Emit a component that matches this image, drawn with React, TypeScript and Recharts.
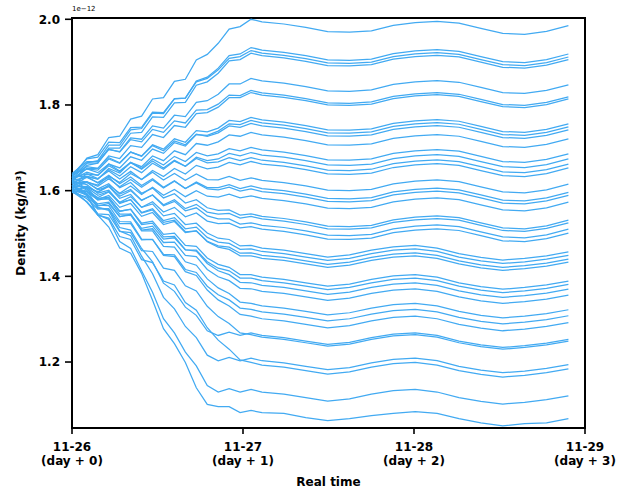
import { LineChart, Line, XAxis, YAxis, ReferenceArea } from 'recharts';

// time since 11-26 00:00, in days
const days = [0, 0.087, 0.151, 0.215, 0.279, 0.343, 0.407, 0.471, 0.535, 0.599, 0.663, 0.727, 0.791, 0.855, 0.919, 0.983, 1.047, 1.111, 1.239, 1.367, 1.495, 1.623, 1.751, 1.879, 2.007, 2.135, 2.263, 2.391, 2.519, 2.647, 2.775, 2.903];

// ensemble members, density in 1e-12 kg/m3
const run01 = [1.630, 1.676, 1.684, 1.724, 1.727, 1.767, 1.774, 1.814, 1.817, 1.855, 1.860, 1.905, 1.918, 1.944, 1.977, 1.983, 2.000, 1.994, 1.989, 1.981, 1.971, 1.970, 1.973, 1.986, 1.992, 1.995, 1.991, 1.979, 1.967, 1.965, 1.972, 1.985];
const run02 = [1.625, 1.665, 1.670, 1.706, 1.706, 1.742, 1.745, 1.781, 1.780, 1.814, 1.816, 1.856, 1.865, 1.886, 1.915, 1.919, 1.934, 1.928, 1.923, 1.915, 1.905, 1.904, 1.907, 1.920, 1.926, 1.929, 1.925, 1.913, 1.901, 1.899, 1.906, 1.919];
const run03 = [1.636, 1.674, 1.678, 1.713, 1.712, 1.747, 1.748, 1.783, 1.782, 1.815, 1.816, 1.854, 1.862, 1.882, 1.909, 1.913, 1.927, 1.921, 1.916, 1.908, 1.898, 1.897, 1.900, 1.913, 1.919, 1.922, 1.918, 1.906, 1.894, 1.892, 1.899, 1.912];
const run04 = [1.620, 1.659, 1.664, 1.699, 1.699, 1.734, 1.736, 1.772, 1.771, 1.805, 1.806, 1.846, 1.854, 1.874, 1.903, 1.906, 1.921, 1.915, 1.910, 1.902, 1.892, 1.891, 1.894, 1.907, 1.913, 1.916, 1.912, 1.900, 1.888, 1.886, 1.893, 1.906];
const run05 = [1.632, 1.664, 1.665, 1.696, 1.691, 1.723, 1.720, 1.751, 1.746, 1.776, 1.773, 1.806, 1.810, 1.825, 1.849, 1.849, 1.862, 1.856, 1.851, 1.843, 1.833, 1.832, 1.835, 1.848, 1.854, 1.857, 1.853, 1.841, 1.829, 1.827, 1.834, 1.847];
const run06 = [1.640, 1.668, 1.668, 1.697, 1.690, 1.719, 1.714, 1.743, 1.736, 1.763, 1.758, 1.788, 1.789, 1.802, 1.823, 1.822, 1.834, 1.828, 1.823, 1.815, 1.805, 1.804, 1.807, 1.820, 1.826, 1.829, 1.825, 1.813, 1.801, 1.799, 1.806, 1.819];
const run07 = [1.622, 1.652, 1.652, 1.681, 1.675, 1.705, 1.701, 1.731, 1.724, 1.752, 1.748, 1.780, 1.782, 1.795, 1.817, 1.817, 1.829, 1.823, 1.818, 1.810, 1.800, 1.799, 1.802, 1.815, 1.821, 1.824, 1.820, 1.808, 1.796, 1.794, 1.801, 1.814];
const run08 = [1.628, 1.651, 1.648, 1.674, 1.664, 1.690, 1.681, 1.707, 1.697, 1.721, 1.713, 1.740, 1.737, 1.746, 1.764, 1.761, 1.771, 1.765, 1.760, 1.752, 1.742, 1.741, 1.744, 1.757, 1.763, 1.766, 1.762, 1.750, 1.738, 1.736, 1.743, 1.756];
const run09 = [1.615, 1.639, 1.636, 1.662, 1.653, 1.679, 1.671, 1.697, 1.687, 1.712, 1.704, 1.731, 1.729, 1.739, 1.756, 1.754, 1.764, 1.758, 1.753, 1.745, 1.735, 1.734, 1.737, 1.750, 1.756, 1.759, 1.755, 1.743, 1.731, 1.729, 1.736, 1.749];
const run10 = [1.635, 1.656, 1.652, 1.677, 1.665, 1.690, 1.680, 1.705, 1.693, 1.716, 1.707, 1.732, 1.727, 1.735, 1.751, 1.748, 1.757, 1.751, 1.746, 1.738, 1.728, 1.727, 1.730, 1.743, 1.749, 1.752, 1.748, 1.736, 1.724, 1.722, 1.729, 1.742];
const run11 = [1.610, 1.632, 1.627, 1.652, 1.641, 1.666, 1.656, 1.681, 1.670, 1.693, 1.684, 1.710, 1.706, 1.714, 1.730, 1.727, 1.736, 1.730, 1.725, 1.717, 1.707, 1.706, 1.709, 1.722, 1.728, 1.731, 1.727, 1.715, 1.703, 1.701, 1.708, 1.721];
const run12 = [1.626, 1.643, 1.636, 1.658, 1.644, 1.665, 1.652, 1.674, 1.660, 1.680, 1.668, 1.689, 1.681, 1.686, 1.698, 1.693, 1.701, 1.695, 1.690, 1.682, 1.672, 1.671, 1.674, 1.687, 1.693, 1.696, 1.692, 1.680, 1.668, 1.666, 1.673, 1.686];
const run13 = [1.618, 1.634, 1.627, 1.649, 1.634, 1.656, 1.642, 1.664, 1.650, 1.669, 1.657, 1.678, 1.670, 1.674, 1.687, 1.681, 1.689, 1.683, 1.678, 1.670, 1.660, 1.659, 1.662, 1.675, 1.681, 1.684, 1.680, 1.668, 1.656, 1.654, 1.661, 1.674];
const run14 = [1.638, 1.651, 1.642, 1.662, 1.646, 1.666, 1.650, 1.669, 1.653, 1.671, 1.657, 1.675, 1.665, 1.667, 1.677, 1.670, 1.677, 1.671, 1.666, 1.658, 1.648, 1.647, 1.650, 1.663, 1.669, 1.672, 1.668, 1.656, 1.644, 1.642, 1.649, 1.662];
const run15 = [1.605, 1.620, 1.613, 1.634, 1.619, 1.640, 1.626, 1.647, 1.633, 1.652, 1.639, 1.659, 1.651, 1.655, 1.666, 1.660, 1.668, 1.662, 1.657, 1.649, 1.639, 1.638, 1.641, 1.654, 1.660, 1.663, 1.659, 1.647, 1.635, 1.633, 1.640, 1.653];
const run16 = [1.630, 1.639, 1.628, 1.646, 1.627, 1.645, 1.626, 1.643, 1.625, 1.640, 1.624, 1.639, 1.626, 1.625, 1.633, 1.624, 1.630, 1.624, 1.619, 1.611, 1.601, 1.600, 1.603, 1.616, 1.622, 1.625, 1.621, 1.609, 1.597, 1.595, 1.602, 1.615];
const run17 = [1.612, 1.621, 1.610, 1.628, 1.609, 1.626, 1.608, 1.625, 1.606, 1.622, 1.605, 1.620, 1.607, 1.607, 1.614, 1.605, 1.611, 1.605, 1.600, 1.592, 1.582, 1.581, 1.584, 1.597, 1.603, 1.606, 1.602, 1.590, 1.578, 1.576, 1.583, 1.596];
const run18 = [1.624, 1.631, 1.619, 1.636, 1.616, 1.632, 1.612, 1.628, 1.608, 1.623, 1.605, 1.618, 1.604, 1.602, 1.608, 1.599, 1.604, 1.598, 1.593, 1.585, 1.575, 1.574, 1.577, 1.590, 1.596, 1.599, 1.595, 1.583, 1.571, 1.569, 1.576, 1.589];
const run19 = [1.600, 1.608, 1.597, 1.613, 1.594, 1.611, 1.591, 1.608, 1.589, 1.603, 1.586, 1.600, 1.587, 1.585, 1.592, 1.583, 1.588, 1.582, 1.577, 1.569, 1.559, 1.558, 1.561, 1.574, 1.580, 1.583, 1.579, 1.567, 1.555, 1.553, 1.560, 1.573];
const run20 = [1.633, 1.633, 1.618, 1.631, 1.607, 1.619, 1.594, 1.606, 1.583, 1.593, 1.571, 1.579, 1.560, 1.554, 1.555, 1.543, 1.546, 1.540, 1.535, 1.527, 1.517, 1.516, 1.519, 1.532, 1.538, 1.541, 1.537, 1.525, 1.513, 1.511, 1.518, 1.531];
const run21 = [1.608, 1.610, 1.596, 1.610, 1.587, 1.600, 1.577, 1.590, 1.567, 1.579, 1.558, 1.568, 1.550, 1.545, 1.547, 1.536, 1.540, 1.534, 1.529, 1.521, 1.511, 1.510, 1.513, 1.526, 1.532, 1.535, 1.531, 1.519, 1.507, 1.505, 1.512, 1.525];
const run22 = [1.620, 1.619, 1.604, 1.616, 1.592, 1.603, 1.578, 1.590, 1.565, 1.575, 1.553, 1.560, 1.541, 1.534, 1.534, 1.522, 1.525, 1.519, 1.514, 1.506, 1.496, 1.495, 1.498, 1.511, 1.517, 1.520, 1.516, 1.504, 1.492, 1.490, 1.497, 1.510];
const run23 = [1.598, 1.599, 1.584, 1.597, 1.573, 1.586, 1.561, 1.574, 1.550, 1.561, 1.539, 1.548, 1.529, 1.523, 1.524, 1.513, 1.516, 1.510, 1.505, 1.497, 1.487, 1.486, 1.489, 1.502, 1.508, 1.511, 1.507, 1.495, 1.483, 1.481, 1.488, 1.501];
const run24 = [1.627, 1.620, 1.602, 1.610, 1.582, 1.591, 1.561, 1.569, 1.541, 1.547, 1.521, 1.524, 1.501, 1.489, 1.486, 1.471, 1.472, 1.466, 1.461, 1.453, 1.445, 1.450, 1.461, 1.469, 1.472, 1.466, 1.453, 1.444, 1.438, 1.442, 1.448, 1.457];
const run25 = [1.613, 1.607, 1.589, 1.598, 1.570, 1.579, 1.549, 1.558, 1.530, 1.537, 1.511, 1.515, 1.491, 1.480, 1.477, 1.463, 1.464, 1.458, 1.453, 1.445, 1.437, 1.442, 1.453, 1.461, 1.464, 1.458, 1.445, 1.436, 1.430, 1.434, 1.440, 1.449];
const run26 = [1.604, 1.598, 1.580, 1.589, 1.561, 1.570, 1.540, 1.549, 1.521, 1.528, 1.502, 1.506, 1.482, 1.471, 1.468, 1.454, 1.455, 1.449, 1.444, 1.436, 1.428, 1.433, 1.444, 1.452, 1.455, 1.449, 1.436, 1.427, 1.421, 1.425, 1.431, 1.440];
const run27 = [1.622, 1.614, 1.594, 1.601, 1.572, 1.579, 1.548, 1.555, 1.526, 1.531, 1.504, 1.506, 1.481, 1.468, 1.463, 1.448, 1.448, 1.442, 1.437, 1.429, 1.421, 1.426, 1.437, 1.445, 1.448, 1.442, 1.429, 1.420, 1.414, 1.418, 1.424, 1.433];
const run28 = [1.610, 1.598, 1.578, 1.583, 1.552, 1.557, 1.524, 1.529, 1.498, 1.501, 1.472, 1.470, 1.443, 1.428, 1.421, 1.404, 1.404, 1.398, 1.393, 1.385, 1.377, 1.382, 1.393, 1.401, 1.404, 1.398, 1.385, 1.376, 1.370, 1.374, 1.380, 1.389];
const run29 = [1.596, 1.585, 1.564, 1.570, 1.539, 1.545, 1.512, 1.517, 1.487, 1.490, 1.462, 1.461, 1.434, 1.419, 1.413, 1.396, 1.396, 1.390, 1.385, 1.377, 1.369, 1.374, 1.385, 1.393, 1.396, 1.390, 1.377, 1.368, 1.362, 1.366, 1.372, 1.381];
const run30 = [1.618, 1.604, 1.582, 1.585, 1.552, 1.556, 1.521, 1.524, 1.492, 1.493, 1.462, 1.459, 1.430, 1.413, 1.404, 1.386, 1.385, 1.379, 1.374, 1.366, 1.358, 1.363, 1.374, 1.382, 1.385, 1.379, 1.366, 1.357, 1.351, 1.355, 1.361, 1.370];
const run31 = [1.606, 1.591, 1.569, 1.573, 1.540, 1.543, 1.508, 1.511, 1.479, 1.480, 1.449, 1.446, 1.416, 1.399, 1.390, 1.372, 1.371, 1.365, 1.360, 1.352, 1.344, 1.349, 1.360, 1.368, 1.371, 1.365, 1.352, 1.343, 1.337, 1.341, 1.347, 1.356];
const run32 = [1.625, 1.605, 1.580, 1.580, 1.545, 1.545, 1.506, 1.506, 1.470, 1.468, 1.434, 1.426, 1.394, 1.373, 1.360, 1.340, 1.337, 1.331, 1.326, 1.318, 1.310, 1.315, 1.326, 1.334, 1.337, 1.331, 1.318, 1.309, 1.303, 1.307, 1.313, 1.322];
const run33 = [1.600, 1.581, 1.557, 1.558, 1.523, 1.523, 1.485, 1.486, 1.451, 1.450, 1.416, 1.409, 1.377, 1.357, 1.345, 1.326, 1.323, 1.317, 1.312, 1.304, 1.296, 1.301, 1.312, 1.320, 1.323, 1.317, 1.304, 1.295, 1.289, 1.293, 1.299, 1.308];
const run34 = [1.614, 1.592, 1.566, 1.565, 1.528, 1.527, 1.487, 1.486, 1.449, 1.446, 1.411, 1.402, 1.368, 1.345, 1.331, 1.311, 1.307, 1.301, 1.296, 1.288, 1.280, 1.285, 1.296, 1.304, 1.307, 1.301, 1.288, 1.279, 1.273, 1.277, 1.283, 1.292];
const run35 = [1.609, 1.594, 1.560, 1.557, 1.514, 1.508, 1.465, 1.434, 1.384, 1.365, 1.328, 1.309, 1.273, 1.262, 1.270, 1.262, 1.268, 1.262, 1.257, 1.249, 1.241, 1.246, 1.257, 1.265, 1.268, 1.262, 1.249, 1.240, 1.234, 1.238, 1.244, 1.253];
const run36 = [1.598, 1.574, 1.546, 1.544, 1.505, 1.502, 1.460, 1.458, 1.419, 1.414, 1.378, 1.366, 1.330, 1.306, 1.290, 1.268, 1.264, 1.258, 1.253, 1.245, 1.237, 1.242, 1.253, 1.261, 1.264, 1.258, 1.245, 1.236, 1.230, 1.234, 1.240, 1.249];
const run37 = [1.620, 1.601, 1.561, 1.554, 1.506, 1.495, 1.447, 1.406, 1.351, 1.324, 1.283, 1.257, 1.216, 1.203, 1.211, 1.203, 1.209, 1.203, 1.198, 1.190, 1.182, 1.187, 1.198, 1.206, 1.209, 1.203, 1.190, 1.181, 1.175, 1.179, 1.185, 1.194];
const run38 = [1.605, 1.573, 1.543, 1.536, 1.493, 1.486, 1.439, 1.432, 1.389, 1.380, 1.339, 1.321, 1.280, 1.251, 1.230, 1.205, 1.199, 1.193, 1.188, 1.180, 1.172, 1.177, 1.188, 1.196, 1.199, 1.193, 1.180, 1.171, 1.165, 1.169, 1.175, 1.184];
const run39 = [1.612, 1.588, 1.544, 1.533, 1.481, 1.465, 1.413, 1.363, 1.301, 1.268, 1.223, 1.191, 1.145, 1.130, 1.138, 1.130, 1.136, 1.130, 1.125, 1.117, 1.109, 1.114, 1.125, 1.133, 1.136, 1.130, 1.117, 1.108, 1.102, 1.106, 1.112, 1.121];
const run40 = [1.602, 1.590, 1.543, 1.515, 1.466, 1.454, 1.407, 1.344, 1.278, 1.243, 1.199, 1.140, 1.101, 1.096, 1.096, 1.082, 1.087, 1.082, 1.080, 1.070, 1.063, 1.068, 1.075, 1.080, 1.084, 1.080, 1.068, 1.058, 1.051, 1.056, 1.058, 1.068];

const runs = [
  run01, run02, run03, run04, run05, run06, run07, run08, run09, run10,
  run11, run12, run13, run14, run15, run16, run17, run18, run19, run20,
  run21, run22, run23, run24, run25, run26, run27, run28, run29, run30,
  run31, run32, run33, run34, run35, run36, run37, run38, run39, run40,
];

const xTicks = [0, 1, 2, 3];
const tickDates = ['11-26', '11-27', '11-28', '11-29'];
const tickDays = ['(day + 0)', '(day + 1)', '(day + 2)', '(day + 3)'];
const yTicks = [1.2, 1.4, 1.6, 1.8, 2.0];
const Y_MIN = 1.046;
const Y_MAX = 2.003;

const data = days.map((t, i) => {
  const row: Record<string, number> = { t };
  runs.forEach((r, j) => {
    row[`r${j}`] = r[i];
  });
  return row;
});

const FONT = '"DejaVu Sans", Verdana, sans-serif';
const BLUE = '#42aaf2';

function DayTick({ x, y, payload }: any) {
  const i = xTicks.indexOf(payload.value);
  return (
    <text x={x} y={y} textAnchor="middle" fontFamily={FONT} fontWeight="bold" fontSize={12} fill="#000">
      <tspan x={x} dy={15}>{tickDates[i]}</tspan>
      <tspan x={x} dy={14}>{tickDays[i]}</tspan>
    </text>
  );
}

export default function App() {
  return (
    <div style={{ position: 'absolute', left: 0, top: 0, width: 618, height: 488, background: '#fff' }}>
      <LineChart width={618} height={488} data={data} margin={{ top: 18, right: 33, bottom: 0, left: 0 }}>
        <XAxis
          dataKey="t"
          type="number"
          domain={[0, 3]}
          ticks={xTicks}
          height={60}
          tickSize={6}
          tickMargin={2}
          axisLine={false}
          tickLine={{ stroke: '#000', strokeWidth: 1.6 }}
          tick={<DayTick />}
          label={{
            value: 'Real time',
            position: 'insideBottom',
            offset: 2,
            style: { fontFamily: FONT, fontWeight: 'bold', fontSize: 12, fill: '#000' },
          }}
        />
        <YAxis
          type="number"
          domain={[Y_MIN, Y_MAX]}
          ticks={yTicks}
          width={72}
          tickSize={7}
          tickMargin={5}
          axisLine={false}
          allowDataOverflow
          tickLine={{ stroke: '#000', strokeWidth: 1.6 }}
          tick={{ fill: '#000', fontSize: 12, fontWeight: 'bold', fontFamily: FONT }}
          tickFormatter={(v) => v.toFixed(1)}
          label={{
            value: 'Density (kg/m³)',
            angle: -90,
            position: 'insideLeft',
            offset: 21,
            style: { textAnchor: 'middle', fontFamily: FONT, fontWeight: 'bold', fontSize: 12, fill: '#000' },
          }}
        />
        {runs.map((_, j) => (
          <Line
            key={j}
            type="linear"
            dataKey={`r${j}`}
            stroke={BLUE}
            strokeWidth={1.25}
            dot={false}
            activeDot={false}
            isAnimationActive={false}
          />
        ))}
        <ReferenceArea x1={0} x2={3} y1={Y_MIN} y2={Y_MAX} fill="none" stroke="#000" strokeWidth={2} ifOverflow="visible" />
      </LineChart>
      <div
        style={{
          position: 'absolute',
          left: 72,
          top: 5,
          fontFamily: FONT,
          fontSize: 7,
          color: '#000',
          lineHeight: '8px',
        }}
      >
        1e−12
      </div>
    </div>
  );
}
